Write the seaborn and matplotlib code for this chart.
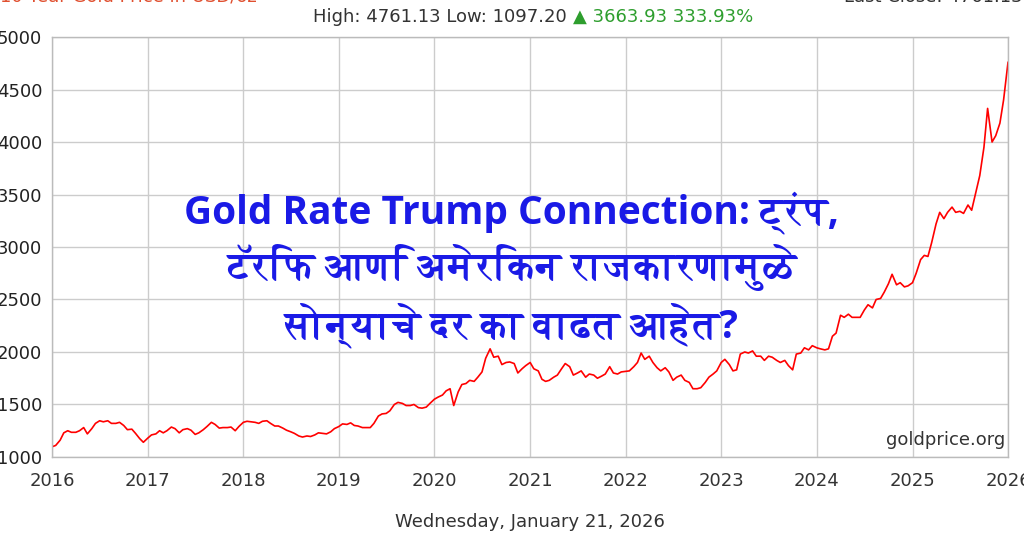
import numpy as np
import pandas as pd
import matplotlib
matplotlib.use("Agg")
import matplotlib.pyplot as plt
import seaborn as sns
from matplotlib import font_manager, ft2font

# ---------------- data (semi-monthly gold price, USD/oz) ----------------
p2016 = [1097, 1110, 1160, 1230, 1250, 1235, 1235, 1250, 1280, 1220, 1270, 1320,
         1345, 1335, 1345, 1320, 1320, 1330, 1300, 1260, 1265, 1225, 1175, 1140]
p2017 = [1180, 1210, 1220, 1250, 1230, 1250, 1285, 1270, 1230, 1260, 1270, 1255,
         1215, 1230, 1260, 1290, 1330, 1310, 1275, 1280, 1280, 1285, 1250, 1290]
p2018 = [1330, 1340, 1335, 1330, 1320, 1340, 1345, 1320, 1295, 1295, 1275, 1255,
         1240, 1225, 1200, 1190, 1200, 1195, 1210, 1230, 1225, 1220, 1240, 1270]
p2019 = [1290, 1315, 1310, 1325, 1300, 1295, 1280, 1280, 1280, 1320, 1390, 1410,
         1415, 1440, 1500, 1520, 1510, 1490, 1490, 1500, 1470, 1465, 1475, 1510]
p2020 = [1550, 1570, 1590, 1630, 1650, 1490, 1620, 1690, 1700, 1730, 1720, 1760,
         1810, 1940, 2030, 1950, 1960, 1880, 1900, 1905, 1890, 1800, 1840, 1870]
p2021 = [1900, 1840, 1820, 1740, 1720, 1730, 1760, 1780, 1840, 1890, 1860, 1780,
         1800, 1820, 1760, 1790, 1780, 1750, 1770, 1790, 1860, 1800, 1790, 1810]
p2022 = [1815, 1820, 1860, 1900, 1990, 1930, 1960, 1900, 1850, 1820, 1850, 1810,
         1730, 1760, 1780, 1730, 1710, 1650, 1650, 1660, 1710, 1760, 1790, 1820]
p2023 = [1900, 1930, 1880, 1820, 1830, 1980, 2000, 1990, 2010, 1960, 1960, 1920,
         1960, 1950, 1920, 1900, 1920, 1870, 1830, 1980, 1990, 2040, 2020, 2060]
p2024 = [2040, 2030, 2020, 2030, 2150, 2180, 2350, 2330, 2360, 2330, 2330, 2330,
         2400, 2450, 2420, 2500, 2510, 2570, 2650, 2740, 2640, 2660, 2620, 2630]
p2025 = [2660, 2750, 2880, 2920, 2910, 3040, 3220, 3330, 3270, 3330, 3380, 3330,
         3340, 3320, 3400, 3350, 3530, 3680, 3950, 4320, 4000, 4060, 4180, 4400]
p2026 = [4761]

prices = p2016 + p2017 + p2018 + p2019 + p2020 + p2021 + p2022 + p2023 + p2024 + p2025 + p2026
dates = pd.date_range("2016-01-01", "2026-01-01", freq="SMS")[:len(prices)]
df = pd.DataFrame({"date": dates, "price": prices})

year_labels = [str(y) for y in range(2016, 2027)]
y_ticks = [1000, 1500, 2000, 2500, 3000, 3500, 4000, 4500, 5000]

header_left = "High: 4761.13 Low: 1097.20 "
header_right = "\u25B2 3663.93 333.93%"
title_lines = ["Gold Rate Trump Connection: ट्रंप,",
               "टॅरिफ आणि अमेरिकन राजकारणामुळे",
               "सोन्याचे दर का वाढत आहेत?"]

# ---------------- fonts ----------------
def find_font(codepoint):
    bold, regular = None, None
    for f in font_manager.fontManager.ttflist:
        try:
            cm = ft2font.FT2Font(f.fname).get_charmap()
        except Exception:
            continue
        if codepoint in cm:
            if f.weight in ("bold", 700) and bold is None:
                bold = f.name
            if regular is None:
                regular = f.name
    return bold or regular

deva = find_font(0x0915)
installed = {f.name for f in font_manager.fontManager.ttflist}
narrow = [n for n in ["Liberation Sans Narrow", "DejaVu Sans Condensed"] if n in installed]
narrow_fam = narrow + ["DejaVu Sans"]
latin_title = "Open Sans" if "Open Sans" in installed else "DejaVu Sans"

sns.set_theme(style="whitegrid")
plt.rcParams["font.family"] = ["DejaVu Sans"]

fig = plt.figure(figsize=(10.24, 5.38), dpi=100)
ax = fig.add_axes([0.0508, 0.1506, 0.9336, 0.7806])
ax.set_facecolor("white")

sns.lineplot(data=df, x="date", y="price", ax=ax, color="#ff0000", linewidth=1.2)

ax.set_xlim(pd.Timestamp("2016-01-01"), pd.Timestamp("2026-01-01"))
ax.set_ylim(1000, 5000)
ax.set_yticks(y_ticks)
ax.set_yticklabels([str(v) for v in y_ticks], fontsize=13, color="#222222")
xt = [pd.Timestamp(f"{y}-01-01") for y in range(2016, 2027)]
ax.set_xticks(xt)
ax.set_xticklabels(year_labels, fontsize=13, color="#333333", family=narrow_fam)
ax.set_xlabel("")
ax.set_ylabel("")
ax.grid(True, color="#cccccc", linewidth=1.0)
ax.tick_params(axis="both", length=3, color="#bbbbbb", pad=4)
ax.tick_params(axis="x", pad=8)
for s in ax.spines.values():
    s.set_color("#bbbbbb")
    s.set_linewidth(1.0)

ax.text(0.997, 0.018, "goldprice.org", transform=ax.transAxes, ha="right", va="bottom",
        fontsize=13, color="#333333")

# header texts
t1 = fig.text(0.306, 0.968, header_left, ha="left", va="center", fontsize=13,
              color="#333333", family=narrow_fam)
fig.canvas.draw()
bb = t1.get_window_extent()
fig.text(bb.x1 / fig.bbox.width, 0.968, header_right, ha="left", va="center", fontsize=13,
         color="#2e9e2e", family=narrow_fam + ["DejaVu Sans"])
fig.text(0.0, 1.006, "10 Year Gold Price in USD/oz", ha="left", va="center", fontsize=13,
         color="#e05030", family=narrow_fam)
fig.text(0.999, 1.006, "Last Close: 4761.13", ha="right", va="center", fontsize=13,
         color="#333333", family=narrow_fam)
fig.text(0.518, 0.030, "Wednesday, January 21, 2026", ha="center", va="center", fontsize=13,
         color="#333333", family=narrow_fam)

# overlay title
tfam = [latin_title] + ([deva] if deva else []) + ["DejaVu Sans"]
ys = [0.604, 0.502, 0.396]
for line, yy in zip(title_lines, ys):
    fig.text(0.50, yy, line, ha="center", va="center", fontsize=28, fontweight="bold",
             color="#1a1ae6", family=tfam)

fig.savefig("out.png", dpi=100, facecolor="white")
